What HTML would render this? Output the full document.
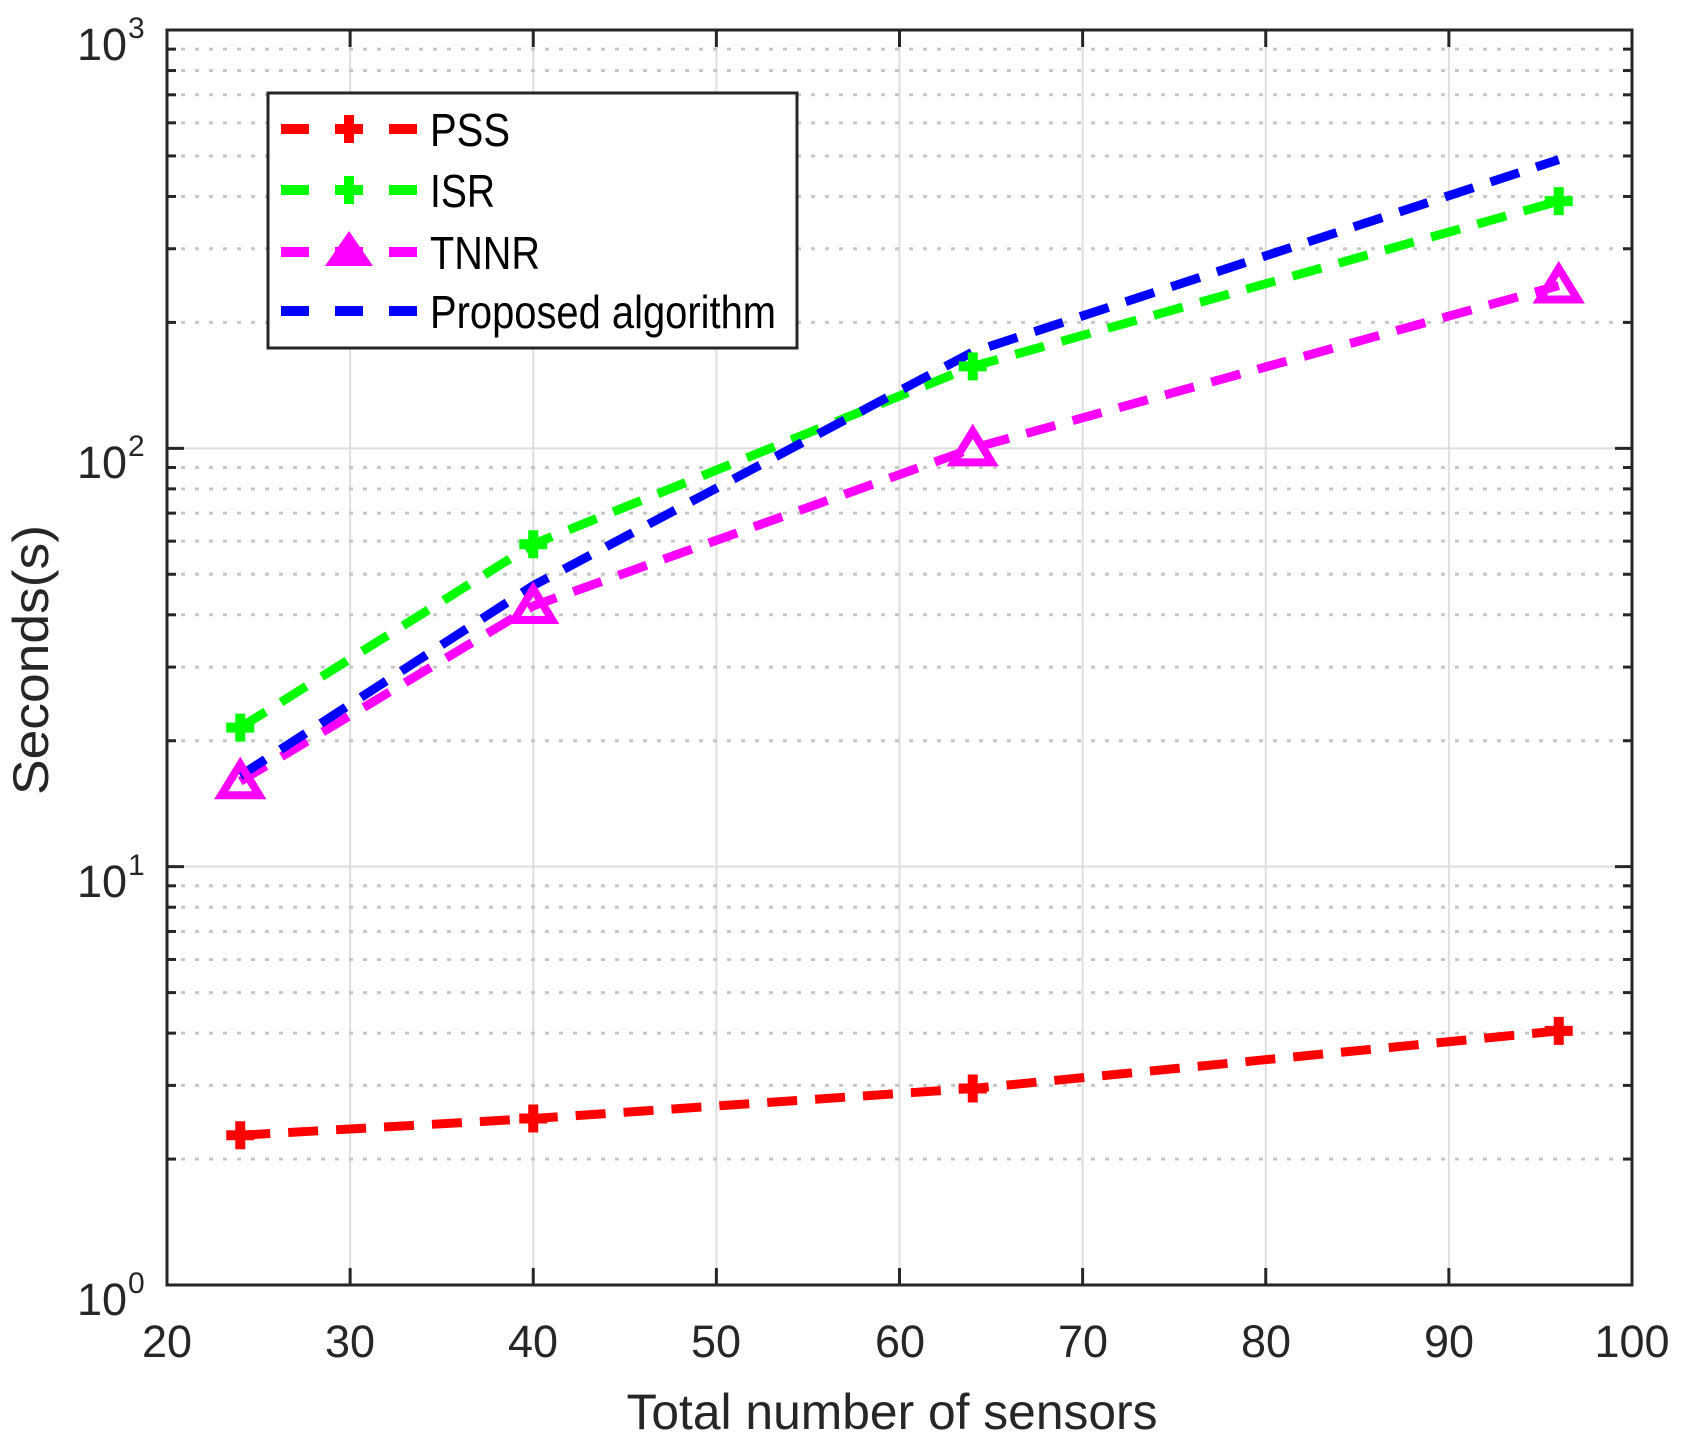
<!DOCTYPE html>
<html><head><meta charset="utf-8"><style>
html,body{margin:0;padding:0;background:#fff}
svg{display:block;font-family:"Liberation Sans",sans-serif}
</style></head><body>
<svg id="s" width="1681" height="1454" viewBox="0 0 1681 1454" xmlns="http://www.w3.org/2000/svg">
<rect width="1681" height="1454" fill="#fff"/>
<g id="grid"></g>
<g id="ticks"></g>
<g id="series"></g>
<rect x="167" y="30" width="1465" height="1255" fill="none" stroke="#262626" stroke-width="3"/>
<g fill="#262626" font-size="45">
<text x="127" y="60" text-anchor="end">10</text><text x="128" y="38" font-size="30">3</text>
<text x="127" y="478" text-anchor="end">10</text><text x="128" y="456" font-size="30">2</text>
<text x="127" y="897" text-anchor="end">10</text><text x="128" y="875" font-size="30">1</text>
<text x="127" y="1315" text-anchor="end">10</text><text x="128" y="1293" font-size="30">0</text>
</g>
<g fill="#262626" font-size="45" text-anchor="middle">
<text x="167" y="1357">20</text>
<text x="350" y="1357">30</text>
<text x="533" y="1357">40</text>
<text x="716" y="1357">50</text>
<text x="900" y="1357">60</text>
<text x="1083" y="1357">70</text>
<text x="1266" y="1357">80</text>
<text x="1449" y="1357">90</text>
<text x="1632" y="1357">100</text>
</g>
<text x="892" y="1429" font-size="50" fill="#262626" text-anchor="middle" textLength="531" lengthAdjust="spacingAndGlyphs">Total number of sensors</text>
<text transform="translate(48,660) rotate(-90)" font-size="50" fill="#262626" text-anchor="middle" textLength="270" lengthAdjust="spacingAndGlyphs">Seconds(s)</text>
<rect x="268" y="93" width="529" height="255" fill="#fff" stroke="#262626" stroke-width="3"/>
<g stroke-width="10">
<line x1="281" y1="129" x2="418" y2="129" stroke="#f00" stroke-dasharray="28 26"/>
<line x1="281" y1="190" x2="418" y2="190" stroke="#0f0" stroke-dasharray="28 26"/>
<line x1="281" y1="252" x2="418" y2="252" stroke="#f0f" stroke-dasharray="28 26"/>
<line x1="281" y1="311" x2="418" y2="311" stroke="#00f" stroke-dasharray="28 26"/>
</g>
<path d="M335 129h28M349 115v28" stroke="#f00" stroke-width="10"/>
<path d="M335 190h28M349 176v28" stroke="#0f0" stroke-width="10"/>
<path d="M349 231 L373 266 L325 266 Z" fill="#f0f"/>
<g font-size="46" fill="#000">
<text x="430" y="146" textLength="80" lengthAdjust="spacingAndGlyphs">PSS</text>
<text x="430" y="207" textLength="65" lengthAdjust="spacingAndGlyphs">ISR</text>
<text x="430" y="269" textLength="110" lengthAdjust="spacingAndGlyphs">TNNR</text>
<text x="430" y="328" textLength="346" lengthAdjust="spacingAndGlyphs">Proposed algorithm</text>
</g>
</svg>
<script>
const NS="http://www.w3.org/2000/svg";
function el(p,t,a){const e=document.createElementNS(NS,t);for(const k in a)e.setAttribute(k,a[k]);p.appendChild(e);return e;}
const X=v=>167+(v-20)*18.3125, Y=v=>1285-418.33*Math.log10(v);
const g=document.getElementById('grid'),tk=document.getElementById('ticks'),s=document.getElementById('series');
for(let v=30;v<100;v+=10){el(g,'line',{x1:X(v),x2:X(v),y1:30,y2:1285,stroke:'#dedede','stroke-width':2});
el(tk,'line',{x1:X(v),x2:X(v),y1:1285,y2:1268,stroke:'#262626','stroke-width':3});
el(tk,'line',{x1:X(v),x2:X(v),y1:30,y2:47,stroke:'#262626','stroke-width':3});}
for(let d=0;d<3;d++){for(let k=1;k<=9;k++){const y=Y(k*Math.pow(10,d));
if(k==1){if(d>0)el(g,'line',{x1:167,x2:1632,y1:y,y2:y,stroke:'#dedede','stroke-width':2});}
else el(g,'line',{x1:167,x2:1632,y1:y,y2:y,stroke:'#c6c6c6','stroke-width':3,'stroke-dasharray':'4 10'});
const L=k==1?17:9;
el(tk,'line',{x1:167,x2:167+L,y1:y,y2:y,stroke:'#262626','stroke-width':3});
el(tk,'line',{x1:1632,x2:1632-L,y1:y,y2:y,stroke:'#262626','stroke-width':3});}}
const xs=[24,40,64,96];
const S=[
{c:'#f00',d:[2.28,2.5,2.95,4.05],m:'+'},
{c:'#0f0',d:[21.5,59,157,390],m:'+'},
{c:'#f0f',d:[16,42,100,245],m:'t'},
{c:'#00f',d:[16.5,47,170,490],m:''}];
for(const q of S){const pts=xs.map((x,i)=>X(x)+','+Y(q.d[i])).join(' ');
el(s,'polyline',{points:pts,fill:'none',stroke:q.c,'stroke-width':9,'stroke-dasharray':'30 18'});}
for(const q of S){xs.forEach((x,i)=>{const px=X(x),py=Y(q.d[i]);
if(q.m=='+')el(s,'path',{d:`M${px-14} ${py}h28M${px} ${py-14}v28`,stroke:q.c,'stroke-width':10,fill:'none'});
else if(q.m=='t')el(s,'path',{d:`M${px} ${py-17}L${px+19} ${py+14}L${px-19} ${py+14}Z`,stroke:q.c,'stroke-width':8,fill:'none','stroke-linejoin':'miter'});});}
</script>
</body></html>
